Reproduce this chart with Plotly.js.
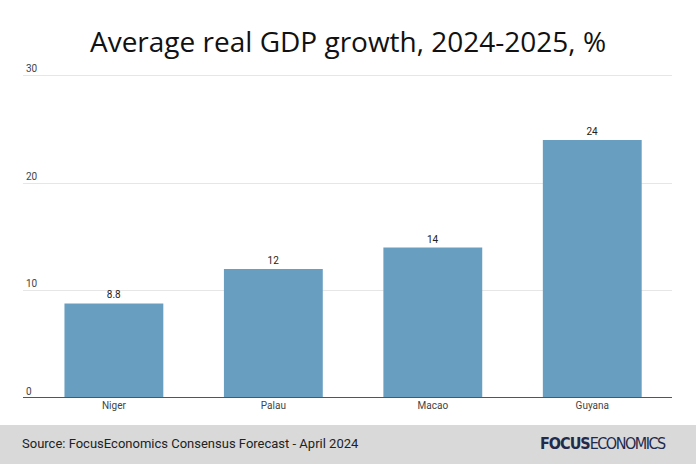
<!DOCTYPE html>
<html><head><meta charset="utf-8">
<script src="https://cdn.plot.ly/plotly-3.0.1.min.js"></script>
<style>html,body{margin:0;padding:0;background:#fff}#chart{width:696px;height:464px}</style>
</head><body><div id="chart"></div>
<script>
const countries = ["Niger", "Palau", "Macao", "Guyana"];
const growth = [8.8, 12, 14, 24];
const labels = ["8.8", "12", "14", "24"];
const yTicks = [0, 10, 20, 30];

const trace = {
  type: "bar",
  x: countries,
  y: growth,
  text: labels,
  textposition: "outside",
  cliponaxis: false,
  textfont: {family: "Roboto, sans-serif", size: 10, color: "#222"},
  marker: {color: "#689fc1"},
  hoverinfo: "x+y"
};

const layout = {
  width: 696, height: 464,
  margin: {l: 23, r: 24, t: 54, b: 66},
  paper_bgcolor: "#fff", plot_bgcolor: "rgba(0,0,0,0)",
  title: {text: "Average real GDP growth, 2024-2025, %", x: 0.5, xanchor: "center", y: 0.91, yanchor: "middle",
          font: {family: "Open Sans, sans-serif", size: 28, color: "#111"}},
  bargap: 0.38,
  showlegend: false,
  xaxis: {range: [-0.57, 3.5], showgrid: false, zeroline: false, showline: false,
          ticks: "", tickfont: {family: "Roboto, sans-serif", size: 10, color: "#444"}},
  yaxis: {range: [0, 32], tickvals: yTicks, ticktext: yTicks.map(String),
          ticklabelposition: "inside top", showgrid: true, gridcolor: "#e6e6e6", gridwidth: 1,
          zeroline: false, showline: false, ticks: "",
          tickfont: {family: "Roboto, sans-serif", size: 10, color: "#444"}},
  shapes: [
    {type: "line", xref: "paper", yref: "y", x0: 0, x1: 1, y0: 0, y1: 0, line: {color: "#555", width: 2}},
    {type: "rect", xref: "paper", yref: "paper", x0: -0.05, x1: 1.05, y0: -0.0784, y1: -0.195, fillcolor: "#d9d9d9", line: {width: 0}, layer: "below"}
  ],
  annotations: [
    {text: "Source: FocusEconomics Consensus Forecast - April 2024", xref: "paper", yref: "paper",
     x: -0.005, xanchor: "left", y: -0.133, yanchor: "middle", showarrow: false,
     font: {family: "Roboto, sans-serif", size: 13, color: "#222"}},
    {text: "<b><span style=\"letter-spacing:-1px\">FOCUS</span></b><span style=\"letter-spacing:-1.5px\">ECONOMICS</span>", xref: "paper", yref: "paper",
     x: 0.994, xanchor: "right", y: -0.133, yanchor: "middle", showarrow: false,
     font: {family: "DejaVu Sans Condensed, Liberation Sans Narrow, sans-serif", size: 16, color: "#1f2a4d"}}
  ]
};

Plotly.newPlot("chart", [trace], layout, {displayModeBar: false, staticPlot: true});
</script></body></html>
